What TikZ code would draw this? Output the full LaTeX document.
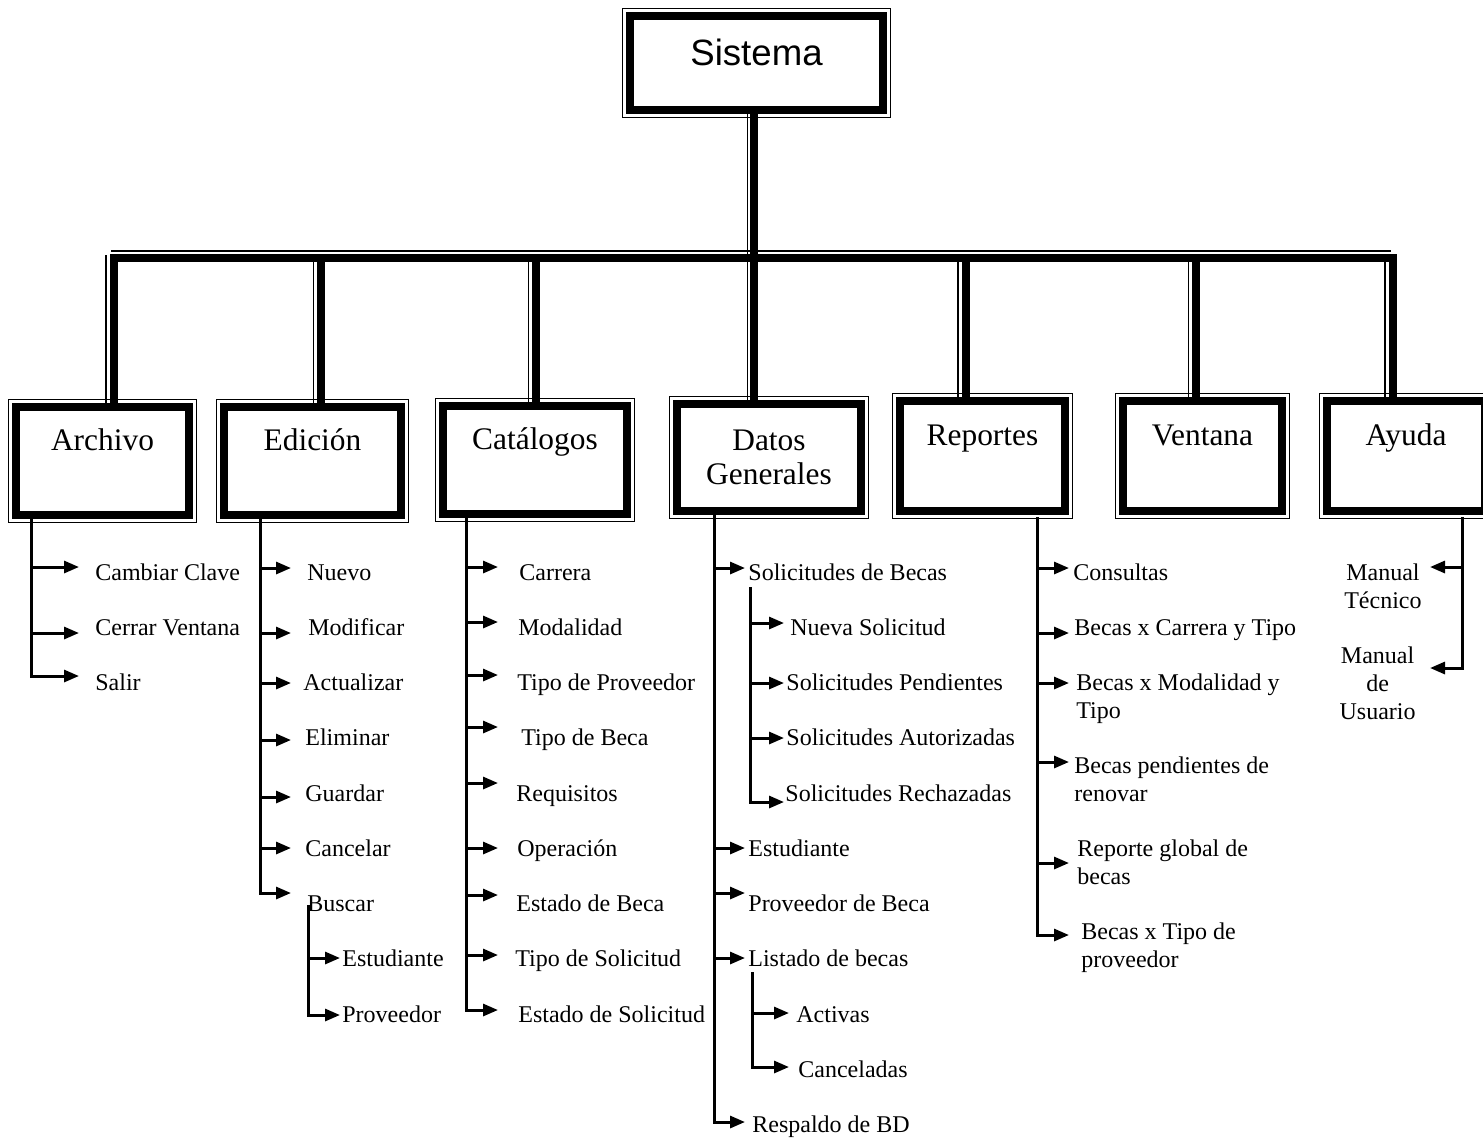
\documentclass[tikz,border=0pt]{standalone}
\usepackage{fontspec}
\setmainfont{Liberation Serif}
\newfontfamily\arialfont{Liberation Sans}
\usetikzlibrary{arrows.meta}

\begin{document}
\begin{tikzpicture}[
		x=0.5pt, y=-0.5pt,
		bus/.style = {line width=4pt, line join=miter},
		busthin/.style = {line width=0.75pt},
		frame/.style = {line width=0.6pt},
		box/.style = {draw, line width=4pt, inner sep=0pt, align=center,
			font=\fontsize{15.7}{17.3}\selectfont},
		menu/.style = {box, text height=11pt, text depth=21.5pt},
		item/.style = {anchor=base west, inner sep=0pt, align=left,
			font=\fontsize{12}{14}\selectfont},
		spine/.style = {line width=1.5pt, line cap=rect},
		arr/.style = {line width=1.5pt, -{Triangle[length=7.5pt,width=6pt]}}
	]
	\useasboundingbox (0,0) rectangle (1483,1137);

	% boxes
	\node[box, text height=13pt, text depth=11pt, minimum width=126.5pt, minimum height=47pt,
		font=\arialfont\fontsize{18.3}{20}\selectfont] (sis) at (756.5,63) {Sistema};
	\node[menu, minimum width=86.5pt, minimum height=54pt] (arc) at (102.5,461) {Archivo};
	\node[menu, minimum width=88.5pt, minimum height=54pt] (edi) at (312.5,461) {Edición};
	\node[menu, minimum width=92pt, minimum height=54pt] (cat) at (535,460) {Catálogos};
	\node[box, minimum width=92pt, minimum height=53.5pt] (dat) at (769,457.5) {Datos\\Generales};
	\node[menu, minimum width=82.5pt, minimum height=55pt] (rep) at (982.5,456) {Reportes};
	\node[menu, minimum width=79.5pt, minimum height=55pt] (ven) at (1202.5,456) {Ventana};
	\node[menu, minimum width=79pt, minimum height=55pt] (ayu) at (1406,456) {Ayuda};
	\foreach \n in {sis,arc,edi,cat,dat,rep,ven,ayu}
		\draw[frame] ([shift={(-3.5,-3.5)}]\n.north west) rectangle ([shift={(3.5,3.5)}]\n.south east);

	% bus and drops
	\coordinate (busL) at (113.5,258);
	\coordinate (busR) at (1392.5,258);
	\coordinate (topL) at (111,251);
	\coordinate (topR) at (1391,251);
	\draw[bus] (busL |- arc.north) -- (busL) -- (busR) -- (busR |- ayu.north);
	\draw[busthin] (topL) -- (topR);
	\foreach \n/\px in {arc/113.5, edi/321, cat/536, rep/965.5, ven/1196, ayu/1392.5}{
		\coordinate (drop) at (\px,258);
		\draw[bus] (drop) -- (drop |- \n.north);
		\coordinate (dropt) at (\px-7.5,255);
		\draw[busthin] (dropt) -- (dropt |- \n.north);
	}
	\coordinate (trk) at (754,0);
	\coordinate (trkt) at (747.5,0);
	\draw[bus] (sis.south -| trk) -- (dat.north -| trk);
	\draw[busthin] (sis.south -| trkt) -- (dat.north -| trkt);

	% Archivo
	\coordinate (arcL) at (31.5,518);
	\coordinate (arcT) at (79,0);
	\foreach \px/\py/\dy/\lbl [count=\i] in {95/580/-13/Cambiar Clave, 95/635/-2/Cerrar Ventana, 95/690/-14/Salir}{
		\node[item] (arc\i) at (\px,\py) {\lbl};
		\coordinate (arcp\i) at ([shift={(0,\dy)}]arc\i.base west);
		\draw[arr] (arcL |- arcp\i) -- (arcT |- arcp\i);
	}
	\draw[spine] (arcL) -- (arcL |- arcp3);

	% Edicion
	\coordinate (ediL) at (260,518);
	\coordinate (ediT) at (291,0);
	\foreach \px/\py/\dy/\lbl [count=\i] in {307/580/-12/Nuevo, 308/635/-2/Modificar, 303/690/-7/Actualizar,
			305/745/-5/Eliminar, 305/801/-4/Guardar, 305/856/-8/Cancelar, 307/911/-18/Buscar}{
		\node[item] (edi\i) at (\px,\py) {\lbl};
		\coordinate (edip\i) at ([shift={(0,\dy)}]edi\i.base west);
		\draw[arr] (ediL |- edip\i) -- (ediT |- edip\i);
	}
	\draw[spine] (ediL) -- (ediL |- edip7);
	\coordinate (bsqL) at (308,906);
	\coordinate (bsqT) at (340,0);
	\foreach \px/\py/\dy/\lbl [count=\i] in {342/966/-8/Estudiante, 342/1022/-7/Proveedor}{
		\node[item] (bsq\i) at (\px,\py) {\lbl};
		\coordinate (bsqp\i) at ([shift={(0,\dy)}]bsq\i.base west);
		\draw[arr] (bsqL |- bsqp\i) -- (bsqT |- bsqp\i);
	}
	\draw[spine] (bsqL) -- (bsqL |- bsqp2);

	% Catalogos
	\coordinate (catL) at (466,518);
	\coordinate (catT) at (498,0);
	\foreach \px/\py/\dy/\lbl [count=\i] in {519/580/-13/Carrera, 518/635/-13/Modalidad, 517/690/-15/Tipo de Proveedor,
			521/745/-18/Tipo de Beca, 516/801/-18/Requisitos, 517/856/-8/Operación, 516/911/-16/Estado de Beca,
			515/966/-11/Tipo de Solicitud, 518/1022/-12/Estado de Solicitud}{
		\node[item] (cat\i) at (\px,\py) {\lbl};
		\coordinate (catp\i) at ([shift={(0,\dy)}]cat\i.base west);
		\draw[arr] (catL |- catp\i) -- (catT |- catp\i);
	}
	\draw[spine] (catL) -- (catL |- catp9);

	% Datos Generales
	\coordinate (datL) at (714,515);
	\coordinate (datT) at (745,0);
	\foreach \px/\py/\dy/\lbl [count=\i] in {748/580/-12/Solicitudes de Becas, 748/856/-8/Estudiante,
			748/911/-18/Proveedor de Beca, 748/966/-8/Listado de becas, 752/1132/-10/Respaldo de BD}{
		\node[item] (dat\i) at (\px,\py) {\lbl};
		\coordinate (datp\i) at ([shift={(0,\dy)}]dat\i.base west);
		\draw[arr] (datL |- datp\i) -- (datT |- datp\i);
	}
	\draw[spine] (datL) -- (datL |- datp5);
	\coordinate (solL) at (750,588);
	\coordinate (solT) at (784,0);
	\foreach \px/\py/\dy/\lbl [count=\i] in {790/635/-12/Nueva Solicitud, 786/690/-7/Solicitudes Pendientes,
			786/745/-7/Solicitudes Autorizadas, 785/801/1/Solicitudes Rechazadas}{
		\node[item] (sol\i) at (\px,\py) {\lbl};
		\coordinate (solp\i) at ([shift={(0,\dy)}]sol\i.base west);
		\draw[arr] (solL |- solp\i) -- (solT |- solp\i);
	}
	\draw[spine] (solL) -- (solL |- solp4);
	\coordinate (lisL) at (752,973);
	\coordinate (lisT) at (789,0);
	\foreach \px/\py/\dy/\lbl [count=\i] in {796/1022/-9/Activas, 798/1077/-10/Canceladas}{
		\node[item] (lis\i) at (\px,\py) {\lbl};
		\coordinate (lisp\i) at ([shift={(0,\dy)}]lis\i.base west);
		\draw[arr] (lisL |- lisp\i) -- (lisT |- lisp\i);
	}
	\draw[spine] (lisL) -- (lisL |- lisp2);

	% Reportes (multi-line labels sit on their last line)
	\coordinate (repL) at (1037,518);
	\coordinate (repT) at (1069,0);
	\foreach \px/\py/\dy/\lbl [count=\i] in {1073/580/-12/Consultas, 1074/635/-2/Becas x Carrera y Tipo,
			1076/718/-35/Becas x Modalidad y\\Tipo, 1074/801/-39/Becas pendientes de\\renovar,
			1077/884/-21/Reporte global de\\becas, 1081/967/-32/Becas x Tipo de\\proveedor}{
		\node[item] (rep\i) at (\px,\py) {\lbl};
		\coordinate (repp\i) at ([shift={(0,\dy)}]rep\i.base west);
		\draw[arr] (repL |- repp\i) -- (repT |- repp\i);
	}
	\draw[spine] (repL) -- (repL |- repp6);

	% Ayuda
	\coordinate (ayuL) at (1462,518);
	\coordinate (ayuT) at (1430,0);
	\node[item, anchor=base east, align=center] (ayu1) at (1422,608) {Manual\\Técnico};
	\node[item, anchor=base east, align=center] (ayu2) at (1416,719) {Manual\\de\\Usuario};
	\coordinate (ayup1) at ([shift={(0,-41)}]ayu1.base east);
	\coordinate (ayup2) at ([shift={(0,-51)}]ayu2.base east);
	\draw[arr] (ayuL |- ayup1) -- (ayuT |- ayup1);
	\draw[arr] (ayuL |- ayup2) -- (ayuT |- ayup2);
	\draw[spine] (ayuL) -- (ayuL |- ayup2);
\end{tikzpicture}
\end{document}
